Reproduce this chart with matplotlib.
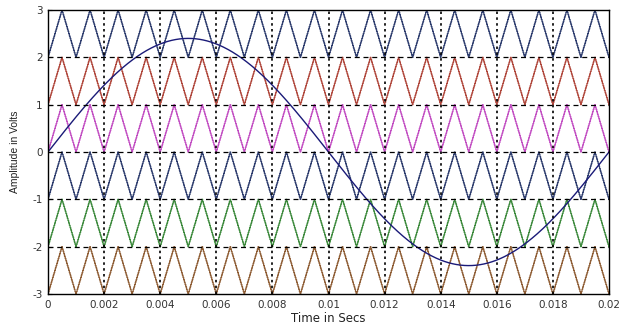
import numpy as np
import matplotlib
matplotlib.use("Agg")
import matplotlib.pyplot as plt

plt.rcParams['font.family'] = ['DejaVu Sans']
plt.rcParams['axes.unicode_minus'] = False

# --- data ---
band_bottoms = [2, 1, 0, -1, -2, -3]           # lower level of each carrier band
band_colors = ['#2e3d6e', '#b0473c', '#c24ec2', '#2e3d6e', '#3d8a3d', '#8f5e36']
carrier_freq = 1000.0       # Hz (20 triangles over 0.02 s)
carrier_step = 2.5e-5       # sampling step of the carriers (s)
ref_amplitude = 2.4         # V
ref_freq = 50.0             # Hz
t_end = 0.02
xticks = [0, 0.002, 0.004, 0.006, 0.008, 0.01, 0.012, 0.014, 0.016, 0.018, 0.02]
xticklabels = ['0', '0.002', '0.004', '0.006', '0.008', '0.01', '0.012', '0.014', '0.016', '0.018', '0.02']
yticks = [-3, -2, -1, 0, 1, 2, 3]

fig = plt.figure(figsize=(6.21, 3.25), dpi=100)
ax = fig.add_axes([48/621, 31/325, 561/621, 284/325])

ts = np.arange(0, t_end + carrier_step/2, carrier_step)
phase = (ts * carrier_freq) % 1.0
tri = 1 - np.abs(2*phase - 1)   # 0 at start, 1 at half-period
for lo, col in zip(band_bottoms, band_colors):
    ax.plot(ts, lo + tri, color=col, lw=0.9, drawstyle='steps-mid')

t = np.linspace(0, t_end, 1001)
ax.plot(t, ref_amplitude*np.sin(2*np.pi*ref_freq*t), color='#1a1a78', lw=1.0)

for y in yticks[1:-1]:
    ax.axhline(y, color='black', ls=(0, (4, 3)), lw=0.9, zorder=3)
for x in xticks[1:-1]:
    ax.axvline(x, color='black', ls=(0, (1.5, 2)), lw=1.2, zorder=3)

ax.set_xlim(0, t_end)
ax.set_ylim(-3, 3)
ax.set_xticks(xticks)
ax.set_xticklabels(xticklabels)
ax.set_yticks(yticks)
ax.tick_params(direction='in', length=3, labelsize=7.5, colors='black', labelcolor='#333333')
ax.tick_params(axis='x', pad=4)
ax.tick_params(axis='y', pad=4)
ax.set_xlabel('Time in Secs', fontsize=8.5, labelpad=1.5, color='#222222')
ax.set_ylabel('Amplitude in Volts', fontsize=7.5, labelpad=9, color='#222222',
              family='Liberation Sans')
for s in ax.spines.values():
    s.set_linewidth(1.0)

fig.savefig('out.png', dpi=100)
